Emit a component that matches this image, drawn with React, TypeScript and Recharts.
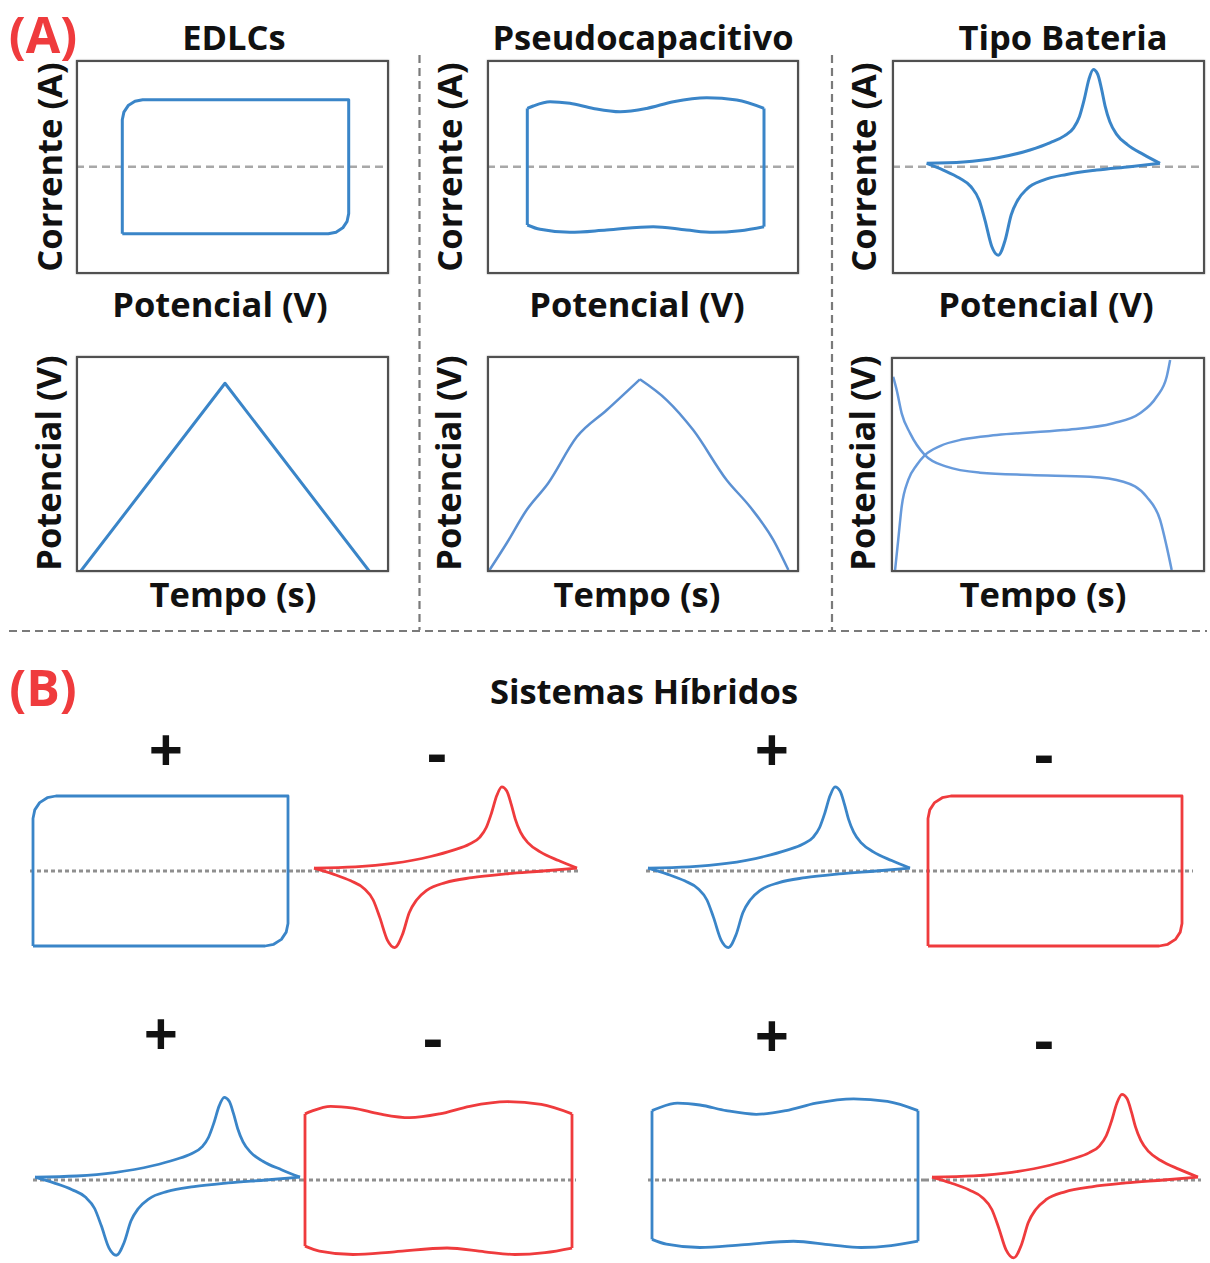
import React from "react";
import { LineChart, Line, XAxis, YAxis, ReferenceLine } from "recharts";

type Pt = [number, number];
type Curve = "linear" | "monotone";

// CV loops, normalised: x 0..1 across the loop, y = current (0 on the dashed line)
const RECT_LOOP: Pt[] = [
  [0, -1], [0, 0.7], [0.007, 0.815], [0.026, 0.912], [0.056, 0.977], [0.09, 1],
  [1, 1], [1, -0.7], [0.993, -0.815], [0.974, -0.912], [0.944, -0.977], [0.91, -1],
  [0, -1],
];
const PSEUDO_TOP: Pt[] = [
  [0, 0.87], [0.025, 0.906], [0.096, 0.97], [0.18, 0.946], [0.279, 0.87], [0.392, 0.82],
  [0.504, 0.87], [0.617, 0.97], [0.758, 1.03], [0.885, 0.995], [1, 0.87],
];
const PSEUDO_BOTTOM: Pt[] = [
  [0, -0.87], [0.054, -0.935], [0.18, -0.98], [0.335, -0.945], [0.532, -0.895],
  [0.673, -0.945], [0.786, -0.98], [0.899, -0.955], [1, -0.895],
];
const PSEUDO_LEFT: Pt[] = [[0, -0.87], [0, 0.87]];
const PSEUDO_RIGHT: Pt[] = [[1, -0.895], [1, 0.87]];
const BATT_FWD: Pt[] = [
  [0, 0.05], [0.157, 0.07], [0.3, 0.13], [0.443, 0.25], [0.53, 0.36], [0.59, 0.46],
  [0.63, 0.58], [0.655, 0.75], [0.675, 1.0], [0.695, 1.3], [0.714, 1.45], [0.733, 1.38],
  [0.75, 1.15], [0.765, 0.9], [0.785, 0.67], [0.815, 0.48], [0.86, 0.33], [0.93, 0.18],
  [1, 0.05],
];
const BATT_REV: Pt[] = [
  [0, 0.05], [0.071, -0.05], [0.14, -0.17], [0.19, -0.3], [0.225, -0.5], [0.25, -0.8],
  [0.279, -1.19], [0.307, -1.32], [0.336, -1.1], [0.362, -0.72], [0.39, -0.5],
  [0.43, -0.33], [0.5, -0.2], [0.6, -0.115], [0.729, -0.05], [0.871, 0], [1, 0.05],
];

// charge/discharge curves, % of the plot box
const GCD_EDLC: Pt[] = [[1.3, 0], [47.6, 87.4], [93.9, 0]];
const GCD_PSEUDO_CHARGE: Pt[] = [
  [0.4, 0], [6.3, 13.3], [12.7, 28.7], [19.6, 41.1], [28.8, 62.6], [38.4, 75], [49.0, 89.2],
];
const GCD_PSEUDO_DISCHARGE: Pt[] = [
  [49.0, 89.2], [57.6, 79.6], [66.1, 65.7], [76.8, 42.6], [84.3, 30.2], [91.8, 14.8], [96.6, 0.9],
];
const GCD_BATT_CHARGE: Pt[] = [
  [1.3, 0.9], [2.3, 14.9], [3.4, 30.4], [5.5, 42.8], [8.2, 49.8], [10.8, 54.4], [15.6, 58.6],
  [23.0, 61.7], [33.7, 63.7], [54.9, 66.0], [70.8, 69.2], [79.3, 73.8], [84.6, 81.5],
  [87.8, 90.8], [88.9, 98.6],
];
const GCD_BATT_DISCHARGE: Pt[] = [
  [0.7, 90.8], [1.8, 84.7], [3.4, 73.8], [6.1, 64.5], [10.8, 54.4], [17.7, 49.0], [28.3, 46.2],
  [44.3, 45.1], [63.4, 44.3], [74.0, 42.0], [81.4, 35.0], [85.7, 24.2], [87.8, 11.8],
  [89.4, 0.9],
];

const COLUMN_TITLES = ["EDLCs", "Pseudocapacitivo", "Tipo Bateria"];

const BLUE = "#3a85c8";
const LIGHT_BLUE = "#679adb";
const RED = "#ef3b3d";
const FONT = '"Open Sans", "Noto Sans", sans-serif';
const LABEL = 34.5;

const rows = (pts: Pt[]) => pts.map(([x, y]) => ({ x, y }));

const SHAPES: Record<string, { pts: Pt[]; curve: Curve }[]> = {
  rect: [{ pts: RECT_LOOP, curve: "linear" }],
  pseudo: [
    { pts: PSEUDO_TOP, curve: "monotone" },
    { pts: PSEUDO_BOTTOM, curve: "monotone" },
    { pts: PSEUDO_LEFT, curve: "linear" },
    { pts: PSEUDO_RIGHT, curve: "linear" },
  ],
  battery: [
    { pts: BATT_FWD, curve: "monotone" },
    { pts: BATT_REV, curve: "monotone" },
  ],
};

interface LoopProps {
  left: number;
  top: number;
  w: number;
  h: number;
  shape: string;
  color: string;
  x0: number;
  x1: number;
  zero: number;
  unit: number;
  lineY?: number;
  dash: string;
  dashColor: string;
  dashWidth: number;
  stroke: number;
  frame?: boolean;
}

function Loop(p: LoopProps) {
  const sx = p.x1 - p.x0;
  const xDomain = [(p.left - p.x0) / sx, (p.left + p.w - p.x0) / sx];
  const yDomain = [(p.zero - (p.top + p.h)) / p.unit, (p.zero - p.top) / p.unit];
  const refY = p.lineY == null ? 0 : (p.zero - p.lineY) / p.unit;
  return (
    <div style={{ position: "absolute", left: p.left, top: p.top, width: p.w, height: p.h }}>
      <LineChart width={p.w} height={p.h} margin={{ top: 0, right: 0, bottom: 0, left: 0 }}>
        <XAxis type="number" dataKey="x" domain={xDomain} hide allowDataOverflow />
        <YAxis type="number" domain={yDomain} hide allowDataOverflow />
        <ReferenceLine
          y={refY}
          stroke={p.dashColor}
          strokeWidth={p.dashWidth}
          strokeDasharray={p.dash}
        />
        {SHAPES[p.shape].map((seg, i) => (
          <Line
            key={i}
            data={rows(seg.pts)}
            dataKey="y"
            type={seg.curve}
            stroke={p.color}
            strokeWidth={p.stroke}
            strokeLinejoin="round"
            dot={false}
            activeDot={false}
            isAnimationActive={false}
          />
        ))}
      </LineChart>
      {p.frame ? <Frame /> : null}
    </div>
  );
}

function Frame() {
  return (
    <div
      style={{
        position: "absolute",
        inset: 0,
        border: "2.5px solid #505050",
        boxShadow: "0 0 1.5px #777, inset 0 0 1px #777",
        pointerEvents: "none",
      }}
    />
  );
}

function Gcd({
  left, top, w, h, series,
}: {
  left: number; top: number; w: number; h: number;
  series: { pts: Pt[]; curve: Curve; color: string; width: number }[];
}) {
  return (
    <div style={{ position: "absolute", left, top, width: w, height: h }}>
      <LineChart width={w} height={h} margin={{ top: 0, right: 0, bottom: 0, left: 0 }}>
        <XAxis type="number" dataKey="x" domain={[0, 100]} hide allowDataOverflow />
        <YAxis type="number" domain={[0, 100]} hide allowDataOverflow />
        {series.map((s, i) => (
          <Line
            key={i}
            data={rows(s.pts)}
            dataKey="y"
            type={s.curve}
            stroke={s.color}
            strokeWidth={s.width}
            strokeLinejoin="round"
            dot={false}
            activeDot={false}
            isAnimationActive={false}
          />
        ))}
      </LineChart>
      <Frame />
    </div>
  );
}

function Txt({
  x, y, size, color = "#111", rotate = false, children,
}: {
  x: number; y: number; size: number; color?: string; rotate?: boolean; children: React.ReactNode;
}) {
  return (
    <div
      style={{
        position: "absolute",
        left: x,
        top: y,
        transform: `translate(-50%, -50%)${rotate ? " rotate(-90deg)" : ""}`,
        fontFamily: FONT,
        fontWeight: 700,
        fontSize: size,
        lineHeight: 1,
        whiteSpace: "nowrap",
        color,
      }}
    >
      {children}
    </div>
  );
}

const CV_A = [
  { left: 76, top: 60, w: 313, h: 214, shape: "rect", x0: 122.3, x1: 348.7 },
  { left: 487, top: 60, w: 312, h: 214, shape: "pseudo", x0: 527.3, x1: 764 },
  { left: 892, top: 60, w: 313, h: 214, shape: "battery", x0: 926.7, x1: 1160 },
];

const HYBRID = [
  { top: 771, h: 200, lineY: 871, items: [
    { shape: "rect", color: BLUE, left: 30, right: 301, x0: 33, x1: 288, zero: 871, unit: 75 },
    { shape: "battery", color: RED, left: 301, right: 580, x0: 314, x1: 577, zero: 871, unit: 58 },
  ] },
  { top: 771, h: 200, lineY: 871, items: [
    { shape: "battery", color: BLUE, left: 646, right: 919, x0: 648, x1: 910, zero: 871, unit: 58 },
    { shape: "rect", color: RED, left: 919, right: 1193, x0: 928, x1: 1182, zero: 871, unit: 75 },
  ] },
  { top: 1080, h: 183, lineY: 1180, items: [
    { shape: "battery", color: BLUE, left: 33, right: 302, x0: 35, x1: 300, zero: 1180, unit: 57 },
    { shape: "pseudo", color: RED, left: 302, right: 576, x0: 305, x1: 572, zero: 1180, unit: 76 },
  ] },
  { top: 1080, h: 183, lineY: 1180, items: [
    { shape: "pseudo", color: BLUE, left: 648, right: 925, x0: 652, x1: 918, zero: 1175, unit: 74 },
    { shape: "battery", color: RED, left: 925, right: 1201, x0: 932, x1: 1198, zero: 1180, unit: 59 },
  ] },
];

const SIGNS: { t: string; x: number; y: number }[] = [
  { t: "+", x: 166, y: 749 }, { t: "-", x: 437, y: 752 },
  { t: "+", x: 772, y: 749 }, { t: "-", x: 1044, y: 753 },
  { t: "+", x: 161, y: 1033 }, { t: "-", x: 433, y: 1037 },
  { t: "+", x: 772, y: 1035 }, { t: "-", x: 1044, y: 1039 },
];

export default function App() {
  const titleX = [234, 643, 1063];
  const yLabX = [49, 449, 863];
  const xLabX = [220, 637, 1046];
  const tempoX = [233, 637, 1043];
  return (
    <div
      style={{
        position: "absolute",
        left: 0,
        top: 0,
        width: 1210,
        height: 1263,
        background: "#fff",
        overflow: "hidden",
      }}
    >
      <svg width={1210} height={1263} style={{ position: "absolute", left: 0, top: 0 }}>
        <line x1={419.5} y1={55} x2={419.5} y2={630} stroke="#7a7a7a" strokeWidth={2.2} strokeDasharray="8 5" />
        <line x1={832} y1={55} x2={832} y2={630} stroke="#7a7a7a" strokeWidth={2.2} strokeDasharray="8 5" />
        <line x1={9} y1={631} x2={1207} y2={631} stroke="#7a7a7a" strokeWidth={2.2} strokeDasharray="8 5" />
      </svg>

      <Txt x={43} y={34} size={50} color={RED}>(A)</Txt>
      {COLUMN_TITLES.map((t, i) => (
        <Txt key={t} x={titleX[i]} y={37} size={LABEL}>{t}</Txt>
      ))}

      {CV_A.map((c, i) => (
        <Loop
          key={i}
          {...c}
          color={BLUE}
          zero={166.7}
          unit={67}
          dash="8 5"
          dashColor="#a8a8a8"
          dashWidth={2.5}
          stroke={3}
          frame
        />
      ))}

      {yLabX.map((x, i) => (
        <Txt key={"c" + i} x={x} y={167} size={LABEL} rotate>Corrente (A)</Txt>
      ))}
      {xLabX.map((x, i) => (
        <Txt key={"p" + i} x={x} y={304} size={LABEL}>Potencial (V)</Txt>
      ))}

      <Gcd left={76} top={356} w={313} h={216}
        series={[{ pts: GCD_EDLC, curve: "linear", color: BLUE, width: 3 }]} />
      <Gcd left={487} top={356} w={312} h={216}
        series={[
          { pts: GCD_PSEUDO_CHARGE, curve: "monotone", color: "#5b90d2", width: 2.5 },
          { pts: GCD_PSEUDO_DISCHARGE, curve: "monotone", color: "#5b90d2", width: 2.5 },
        ]} />
      <Gcd left={891} top={357} w={314} h={215}
        series={[
          { pts: GCD_BATT_CHARGE, curve: "monotone", color: LIGHT_BLUE, width: 2.5 },
          { pts: GCD_BATT_DISCHARGE, curve: "monotone", color: LIGHT_BLUE, width: 2.5 },
        ]} />

      {yLabX.map((x, i) => (
        <Txt key={"v" + i} x={x - 1} y={463} size={LABEL} rotate>Potencial (V)</Txt>
      ))}
      {tempoX.map((x, i) => (
        <Txt key={"t" + i} x={x} y={594} size={LABEL}>Tempo (s)</Txt>
      ))}

      <Txt x={43} y={687} size={50} color={RED}>(B)</Txt>
      <Txt x={644} y={691} size={LABEL}>Sistemas Híbridos</Txt>

      {SIGNS.map((s, i) => (
        <Txt key={"s" + i} x={s.x} y={s.y} size={60}>{s.t}</Txt>
      ))}

      {HYBRID.map((pair, pi) =>
        pair.items.map((it, ii) => (
          <Loop
            key={pi + "-" + ii}
            left={it.left}
            top={pair.top}
            w={it.right - it.left}
            h={pair.h}
            shape={it.shape}
            color={it.color}
            x0={it.x0}
            x1={it.x1}
            zero={it.zero}
            unit={it.unit}
            lineY={pair.lineY}
            dash="4 3"
            dashColor="#8f8f8f"
            dashWidth={3}
            stroke={2.8}
          />
        ))
      )}
    </div>
  );
}
